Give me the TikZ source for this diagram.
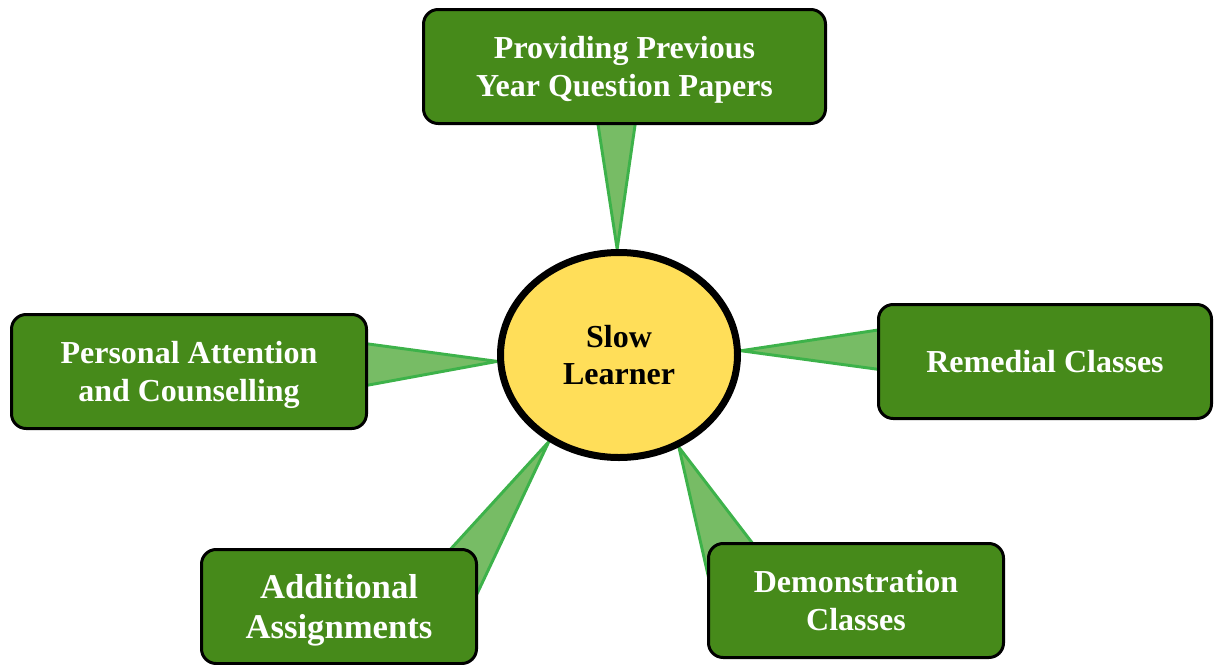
\documentclass[tikz,border=0pt]{standalone}
\usepackage{fontspec}
\setmainfont{Liberation Serif}
\usetikzlibrary{calc,backgrounds,shapes.geometric}

\definecolor{boxgreen}{HTML}{468A1A}
\definecolor{wedgefill}{HTML}{77BC65}
\definecolor{wedgeline}{HTML}{3DB24A}
\definecolor{hubyellow}{HTML}{FFDE59}

\tikzset{every picture/.style={line width=0.75pt}}
\tikzset{
  box/.style={draw=black, line width=2.25pt, fill=boxgreen, rounded corners=11pt,
    text=white, font=\fontsize{24}{28}\selectfont\bfseries, align=center,
    minimum height=85.5pt, inner sep=0pt, text depth=0pt, yshift=0pt},
  hub/.style={ellipse, draw=black, line width=5.25pt, fill=hubyellow,
    font=\fontsize{24}{28}\selectfont\bfseries, align=center,
    minimum width=177.75pt, minimum height=153.75pt, inner sep=0pt, text depth=0pt},
  wedge/.style={draw=wedgeline, fill=wedgefill, line width=2.2pt, line join=round}
}

\begin{document}
\begin{tikzpicture}[x=0.75pt,y=0.75pt,yscale=-1,xscale=1]
    \useasboundingbox (0,0) rectangle (1217,664);

    % Centre
    \node [hub] (sl) at (619,355) {Slow\\Learner};

    % Boxes
    \node [box, minimum width=301.5pt] (pq) at (624.5,66.5) {Providing Previous\\Year Question Papers};
    \node [box, minimum width=249.75pt] (rc) at (1045,361.5) {Remedial Classes};
    \node [box, minimum width=266.25pt] (pa) at (189,371.5) {Personal Attention\\and Counselling};
    \node [box, minimum width=206.25pt, font=\fontsize{26}{30}\selectfont\bfseries] (ab) at (339,606.5) {Additional\\Assignments};
    \node [box, minimum width=221.25pt] (dc) at (856,600.5) {Demonstration\\Classes};

    % Wedges, behind the boxes
    \begin{scope}[on background layer]
    \coordinate (epq) at ($(pq.south)+(-8,-20)$);
    \coordinate (erc) at ($(rc.west)+(23,-12)$);
    \coordinate (epa) at ($(pa.east)+(-23,-6.5)$);
    \coordinate (eab) at ($(ab.east)+(-33,-10)$);
    \coordinate (edc) at ($(dc.west)+(40.4,-7.4)$);

    \draw [wedge] (sl.91) -- ($(epq)!16.1pt!90:(sl.91)$) -- ($(epq)!16.1pt!-90:(sl.91)$) -- cycle;
    \draw [wedge] (sl.2) -- ($(erc)!17.1pt!90:(sl.2)$) -- ($(erc)!17.1pt!-90:(sl.2)$) -- cycle;
    \draw [wedge] (sl.183) -- ($(epa)!18.2pt!90:(sl.183)$) -- ($(epa)!18.2pt!-90:(sl.183)$) -- cycle;
    \draw [wedge] (sl.231) -- ($(eab)!21.1pt!90:(sl.231)$) -- ($(eab)!21.1pt!-90:(sl.231)$) -- cycle;
    \draw [wedge] (sl.303) -- ($(edc)!26.4pt!90:(sl.303)$) -- ($(edc)!26.4pt!-90:(sl.303)$) -- cycle;
    \end{scope}

  \end{tikzpicture}
\end{document}
